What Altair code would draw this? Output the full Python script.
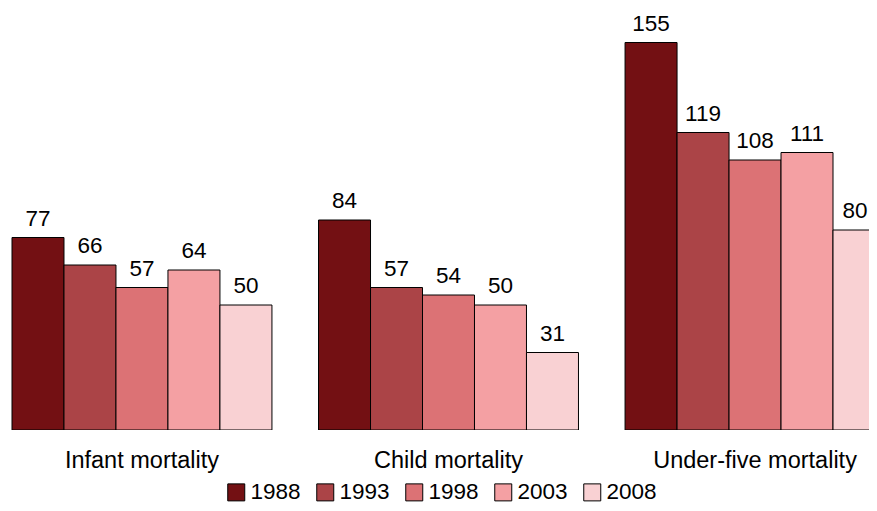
import altair as alt
import pandas as pd

groups = ["Infant mortality", "Child mortality", "Under-five mortality"]
years = ["1988", "1993", "1998", "2003", "2008"]
infant = [77, 66, 57, 64, 50]
child = [84, 57, 54, 50, 31]
under_five = [155, 119, 108, 111, 80]
colors = ["#731013", "#AB4447", "#DC7275", "#F4A0A3", "#F9D1D3"]

rows = []
for g, vals in zip(groups, [infant, child, under_five]):
    for y, v in zip(years, vals):
        rows.append({"group": g, "year": y, "value": v})
df = pd.DataFrame(rows)

FONT = "Liberation Sans"
edge = (alt.datum.group == groups[-1]) & (alt.datum.year == years[-1])

base = alt.Chart(df).encode(
    x=alt.X("group:N", sort=groups,
            scale=alt.Scale(range=[4, 877], paddingInner=0.152, paddingOuter=0),
            axis=alt.Axis(title=None, labelAngle=0, domain=False, ticks=False,
                          labelFontSize=23.5, labelFont=FONT, labelColor="black",
                          labelPadding=18, labelLimit=400)),
    xOffset=alt.XOffset("year:N", sort=years,
                        scale=alt.Scale(paddingInner=0, paddingOuter=0)),
    y=alt.Y("value:Q", scale=alt.Scale(domain=[0, 168.8], nice=False, zero=True),
            axis=None),
)

bars = base.mark_bar(stroke="black", strokeWidth=1, clip=True).encode(
    color=alt.Color("year:N", sort=years,
                    scale=alt.Scale(domain=years, range=colors),
                    legend=alt.Legend(title=None, orient="none", direction="horizontal",
                                      legendX=217, legendY=473, padding=0,
                                      symbolType="square", symbolSize=289,
                                      symbolStrokeColor="black", symbolStrokeWidth=1,
                                      labelFontSize=22.5, labelFont=FONT, labelColor="black",
                                      columnPadding=13, labelOffset=3)),
)

labels = base.mark_text(baseline="bottom", dy=-7, fontSize=22.5, font=FONT,
                        color="black").encode(text="value:Q").transform_filter(~edge)

edge_label = base.mark_text(baseline="bottom", dy=-7, dx=-4, fontSize=22.5, font=FONT,
                            color="black").encode(text="value:Q").transform_filter(edge)

chart = alt.layer(bars, labels, edge_label).properties(
    width=861, height=422,
    autosize=alt.AutoSizeParams(type="none"),
    padding={"left": 0, "top": 0, "right": 0, "bottom": 73},
).configure_view(stroke=None)

chart.save("out.html", embed_options={"renderer": "svg", "actions": False})
